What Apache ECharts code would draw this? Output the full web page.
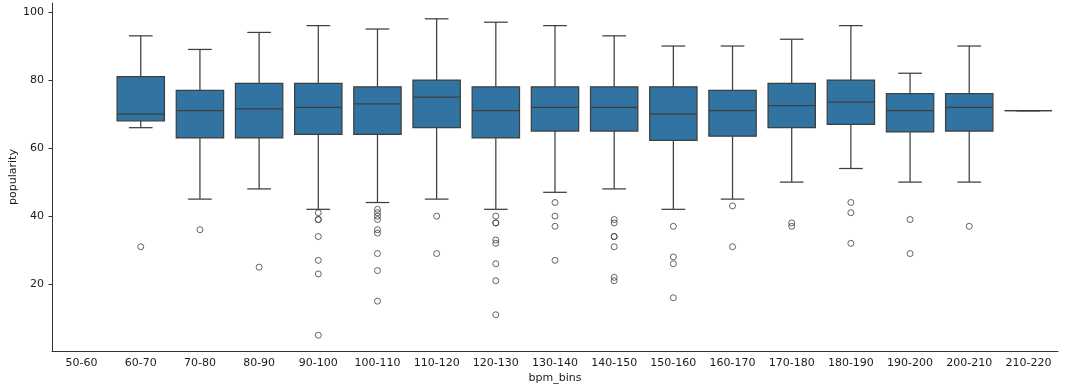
<!DOCTYPE html>
<html>
<head>
<meta charset="utf-8">
<script src="https://cdn.jsdelivr.net/npm/echarts@6/dist/echarts.min.js"></script>
<style>
html,body{margin:0;padding:0;background:#fff;}
#chart{width:1074px;height:389px;}
</style>
</head>
<body>
<div id="chart"></div>
<script>
const categories = ['50-60','60-70','70-80','80-90','90-100','100-110','110-120','120-130','130-140','140-150','150-160','160-170','170-180','180-190','190-200','200-210','210-220'];
// box statistics per category (null = no data)
const whiskerLow  = [null, 66, 45, 48,   42, 44, 45, 42, 47, 48, 42,    45,   50,   54,   50,    50, 71];
const q1          = [null, 68, 63, 63,   64, 64, 66, 63, 65, 65, 62.25, 63.5, 66,   67,   64.75, 65, 71];
const median      = [null, 70, 71, 71.5, 72, 73, 75, 71, 72, 72, 70,    71,   72.5, 73.5, 71,    72, 71];
const q3          = [null, 81, 77, 79,   79, 78, 80, 78, 78, 78, 78,    77,   79,   80,   76,    76, 71];
const whiskerHigh = [null, 93, 89, 94,   96, 95, 98, 97, 96, 93, 90,    90,   92,   96,   82,    90, 71];
const outliers = [
  [],
  [31],
  [36],
  [25],
  [41, 39, 39, 34, 27, 23, 5],
  [42, 41, 40, 39, 36, 35, 29, 24, 15],
  [40, 29],
  [40, 38, 38, 33, 32, 26, 21, 11],
  [44, 40, 37, 27],
  [39, 38, 34, 34, 31, 22, 21],
  [37, 28, 26, 16],
  [43, 31],
  [38, 37],
  [44, 41, 32],
  [39, 29],
  [37],
  []
];
const yTicks = [20, 40, 60, 80, 100];

const boxData = [];
categories.forEach((c, i) => {
  if (median[i] !== null) boxData.push([i, whiskerLow[i], q1[i], median[i], q3[i], whiskerHigh[i]]);
});
const outlierData = [];
outliers.forEach((arr, i) => arr.forEach(v => outlierData.push([i, v])));

const LINE = '#3f3f3f';
const FILL = '#3274a1';
const FONT = 'DejaVu Sans';
const TXT = '#1a1a1a';

function renderBox(params, api) {
  const x = api.value(0);
  const band = api.size([1, 0])[0];
  const boxW = band * 0.8;
  const capW = band * 0.4;
  const pLow = api.coord([x, api.value(1)]);
  const pQ1 = api.coord([x, api.value(2)]);
  const pMed = api.coord([x, api.value(3)]);
  const pQ3 = api.coord([x, api.value(4)]);
  const pHigh = api.coord([x, api.value(5)]);
  const cx = pMed[0];
  const ls = {stroke: LINE, lineWidth: 1.25};
  return {
    type: 'group',
    children: [
      {type: 'line', shape: {x1: cx, y1: pQ1[1], x2: cx, y2: pLow[1]}, style: ls},
      {type: 'line', shape: {x1: cx, y1: pQ3[1], x2: cx, y2: pHigh[1]}, style: ls},
      {type: 'line', shape: {x1: cx - capW / 2, y1: pLow[1], x2: cx + capW / 2, y2: pLow[1]}, style: ls},
      {type: 'line', shape: {x1: cx - capW / 2, y1: pHigh[1], x2: cx + capW / 2, y2: pHigh[1]}, style: ls},
      {type: 'rect', shape: {x: cx - boxW / 2, y: pQ3[1], width: boxW, height: pQ1[1] - pQ3[1]},
        style: {fill: FILL, stroke: LINE, lineWidth: 1.25}},
      {type: 'line', shape: {x1: cx - boxW / 2, y1: pMed[1], x2: cx + boxW / 2, y2: pMed[1]}, style: ls}
    ]
  };
}

const chart = echarts.init(document.getElementById('chart'), null, {renderer: 'canvas'});
chart.setOption({
  animation: false,
  backgroundColor: '#ffffff',
  grid: {left: 52, right: 16, top: 3, bottom: 38, containLabel: false, outerBoundsMode: 'none'},
  xAxis: {
    type: 'category',
    data: categories,
    boundaryGap: true,
    name: 'bpm_bins',
    nameLocation: 'middle',
    nameGap: 22,
    nameMoveOverlap: false,
    nameTextStyle: {fontFamily: FONT, fontSize: 11, color: TXT},
    axisLine: {lineStyle: {color: '#333', width: 1}},
    axisTick: {alignWithLabel: true, length: 3.5, lineStyle: {color: '#333'}},
    axisLabel: {fontFamily: FONT, fontSize: 11, color: TXT, margin: 7, interval: 0},
    splitLine: {show: false}
  },
  yAxis: {
    type: 'value',
    min: 0.35,
    max: 102.65,
    name: 'popularity',
    nameLocation: 'middle',
    nameGap: 33,
    nameMoveOverlap: false,
    nameTextStyle: {fontFamily: FONT, fontSize: 11, color: TXT},
    axisLine: {show: true, lineStyle: {color: '#333', width: 1}},
    axisTick: {show: true, length: 3.5, lineStyle: {color: '#333'}, customValues: yTicks},
    axisLabel: {fontFamily: FONT, fontSize: 11, color: TXT, margin: 8, customValues: yTicks},
    splitLine: {show: false}
  },
  series: [
    {
      type: 'custom',
      renderItem: renderBox,
      data: boxData,
      encode: {x: 0, y: [1, 2, 3, 4, 5]},
      z: 2
    },
    {
      type: 'scatter',
      data: outlierData,
      symbol: 'circle',
      symbolSize: 6,
      itemStyle: {color: 'rgba(255,255,255,0)', borderColor: LINE, borderWidth: 1},
      z: 3
    }
  ]
});
</script>
</body>
</html>
